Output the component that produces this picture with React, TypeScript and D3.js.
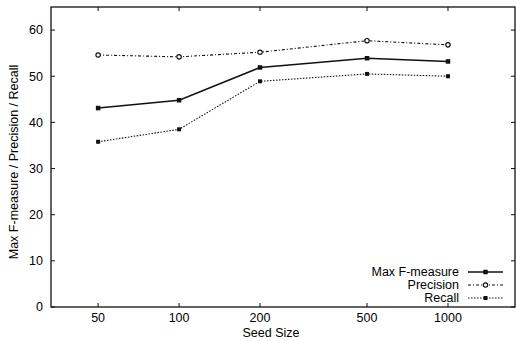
import * as d3 from 'd3'
import { useRef, useEffect } from 'react'

const seedSizes = [50, 100, 200, 500, 1000]
const maxF = [43.1, 44.8, 51.9, 53.9, 53.2]
const precision = [54.6, 54.2, 55.2, 57.7, 56.8]
const recall = [35.8, 38.5, 48.9, 50.5, 50.0]
const yTicks = [0, 10, 20, 30, 40, 50, 60]

const series = [
  { name: 'Max F-measure', values: maxF, dash: null, marker: 'square' },
  { name: 'Precision', values: precision, dash: '3,2,1,2', marker: 'circle' },
  { name: 'Recall', values: recall, dash: '1.5,1.5', marker: 'smallsquare' },
]

const width = 516
const height = 341
const left = 51
const right = 515
const top = 7
const bottom = 307
const font = 'Liberation Sans, Arial, Helvetica, sans-serif'

const App = () => {
  const svgRef = useRef(null)

  useEffect(() => {
    const svg = d3.select(svgRef.current)
    svg.selectAll('*').remove() // clear

    const x = d3.scaleLog().domain([33.4, 1775]).range([left, right])
    const y = d3.scaleLinear().domain([0, 65]).range([bottom, top])

    // frame
    svg
      .append('rect')
      .attr('x', left)
      .attr('y', top)
      .attr('width', right - left)
      .attr('height', bottom - top)
      .attr('fill', 'none')
      .attr('stroke', '#111')
      .attr('stroke-width', 1.3)

    // y ticks, both sides, inward
    const yt = svg.append('g')
    yTicks.forEach(t => {
      yt.append('line')
        .attr('x1', left).attr('x2', left + 4)
        .attr('y1', y(t)).attr('y2', y(t))
        .attr('stroke', '#111')
      yt.append('line')
        .attr('x1', right - 4).attr('x2', right)
        .attr('y1', y(t)).attr('y2', y(t))
        .attr('stroke', '#111')
      yt.append('text')
        .attr('x', left - 8)
        .attr('y', y(t))
        .attr('dy', '0.35em')
        .attr('text-anchor', 'end')
        .attr('font-family', font)
        .attr('font-size', 12.5)
        .text(t)
    })

    // x ticks, bottom and top
    const xt = svg.append('g')
    seedSizes.forEach(s => {
      xt.append('line')
        .attr('x1', x(s)).attr('x2', x(s))
        .attr('y1', bottom).attr('y2', bottom - 4)
        .attr('stroke', '#111')
      xt.append('line')
        .attr('x1', x(s)).attr('x2', x(s))
        .attr('y1', top).attr('y2', top + 4)
        .attr('stroke', '#111')
      xt.append('text')
        .attr('x', x(s))
        .attr('y', bottom + 15)
        .attr('text-anchor', 'middle')
        .attr('font-family', font)
        .attr('font-size', 12.5)
        .text(s)
    })

    // axis labels
    svg
      .append('text')
      .attr('x', 271)
      .attr('y', bottom + 30)
      .attr('text-anchor', 'middle')
      .attr('font-family', font)
      .attr('font-size', 12.5)
      .text('Seed Size')

    svg
      .append('text')
      .attr('transform', `translate(18, ${(top + bottom) / 2 + 5}) rotate(-90)`)
      .attr('text-anchor', 'middle')
      .attr('font-family', font)
      .attr('font-size', 12.5)
      .text('Max F-measure / Precision / Recall')

    const drawMarker = (g, type, cx, cy) => {
      if (type === 'circle') {
        g.append('circle')
          .attr('cx', cx).attr('cy', cy).attr('r', 2.2)
          .attr('fill', 'white').attr('stroke', '#111').attr('stroke-width', 1.2)
      } else {
        const s = type === 'square' ? 4.5 : 4
        g.append('rect')
          .attr('x', cx - s / 2).attr('y', cy - s / 2)
          .attr('width', s).attr('height', s)
          .attr('fill', '#111')
      }
    }

    const line = d3
      .line()
      .x(d => x(d[0]))
      .y(d => y(d[1]))

    series.forEach(sr => {
      const pts = seedSizes.map((s, i) => [s, sr.values[i]])
      const g = svg.append('g')
      g.append('path')
        .attr('d', line(pts))
        .attr('fill', 'none')
        .attr('stroke', '#111')
        .attr('stroke-width', sr.dash ? 1.1 : 1.5)
        .attr('stroke-dasharray', sr.dash)
      pts.forEach(p => drawMarker(g, sr.marker, x(p[0]), y(p[1])))
    })

    // legend
    const lg = svg.append('g')
    series.forEach((sr, i) => {
      const ly = 272 + i * 13
      lg.append('text')
        .attr('x', 459)
        .attr('y', ly)
        .attr('dy', '0.35em')
        .attr('text-anchor', 'end')
        .attr('font-family', font)
        .attr('font-size', 12.5)
        .text(sr.name)
      lg.append('line')
        .attr('x1', 468).attr('x2', 503)
        .attr('y1', ly).attr('y2', ly)
        .attr('stroke', '#111')
        .attr('stroke-width', sr.dash ? 1.1 : 1.5)
        .attr('stroke-dasharray', sr.dash)
      drawMarker(lg, sr.marker, 485.5, ly)
    })
  }, [])

  return (
    <svg
      ref={svgRef}
      width={width}
      height={height}
      style={{ position: 'absolute', left: 0, top: 0, background: 'white' }}
    ></svg>
  )
}

export default App
